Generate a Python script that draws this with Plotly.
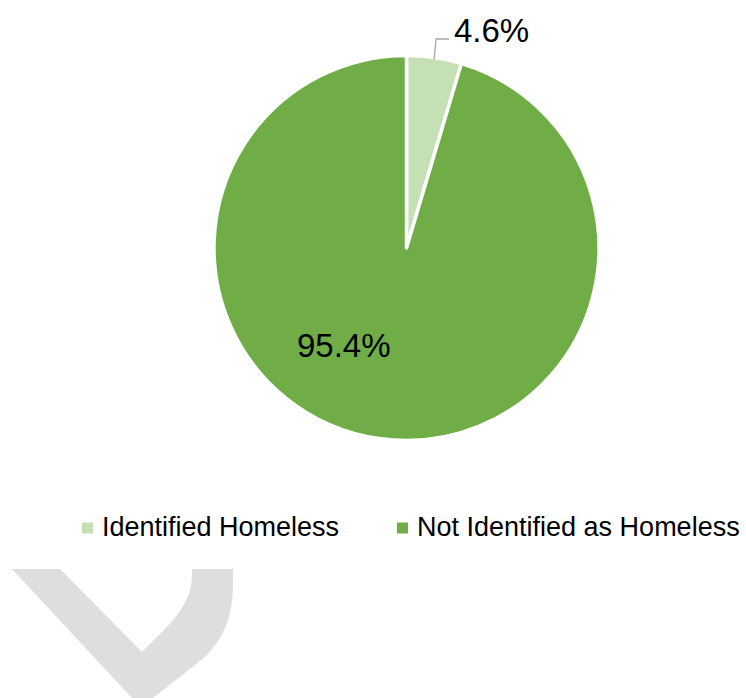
import math
import plotly.graph_objects as go

W, H = 746, 698

labels = ["Identified Homeless", "Not Identified as Homeless"]
values = [4.6, 95.4]
colors = ["#C5E0B4", "#70AD47"]

# pie geometry in pixels (radius includes half of the white slice border)
cx, cy, r = 406.5, 248, 192.5


def px(x):
    return x / W


def py(y):
    return 1 - y / H


def pt(x, y):
    return f"{px(x):.5f},{py(y):.5f}"


def path_from_pixels(points, close=True):
    parts = []
    for i, (x, y) in enumerate(points):
        parts.append(("M" if i == 0 else "L") + pt(x, y))
    return " ".join(parts) + (" Z" if close else "")


fig = go.Figure(
    go.Pie(
        labels=labels,
        values=values,
        sort=False,
        direction="clockwise",
        rotation=0,
        textinfo="none",
        hoverinfo="label+percent",
        marker=dict(colors=colors, line=dict(color="white", width=3.5)),
        domain=dict(x=[px(cx - r), px(cx + r)], y=[py(cy + r), py(cy - r)]),
        showlegend=False,
    )
)

total = sum(values)

# leader line from the small slice's outer edge to its label
mid = values[0] / total * 360 / 2
ang = math.radians(mid)
ex, ey = cx + (r - 1) * math.sin(ang), cy - (r - 1) * math.cos(ang)
leader = [(ex, ey + 1), (ex + 2, 39), (ex + 15, 39)]
fig.add_shape(
    type="path",
    path=path_from_pixels(leader, close=False),
    xref="paper", yref="paper",
    line=dict(color="#A6A6A6", width=1.3),
)

label_font = dict(family="Liberation Sans, Arial, sans-serif", size=33, color="#000000")
fig.add_annotation(
    x=px(ex + 18), y=py(30), xref="paper", yref="paper",
    text=f"{values[0] / total * 100:.1f}%", showarrow=False,
    xanchor="left", yanchor="middle", font=label_font,
)
fig.add_annotation(
    x=px(344), y=py(345), xref="paper", yref="paper",
    text=f"{values[1] / total * 100:.1f}%", showarrow=False,
    xanchor="center", yanchor="middle", font=label_font,
)

# legend row: square swatch followed by the category name
legend_font = dict(family="Liberation Sans, Arial, sans-serif", size=27, color="#000000")
legend_x = [82, 397]
legend_y = 528
sw = 11
for name, col, lx in zip(labels, colors, legend_x):
    fig.add_shape(
        type="rect",
        x0=px(lx), x1=px(lx + sw),
        y0=py(legend_y + sw / 2), y1=py(legend_y - sw / 2),
        xref="paper", yref="paper",
        fillcolor=col, line=dict(width=0),
    )
    fig.add_annotation(
        x=px(lx + sw + 7), y=py(legend_y - 1), xref="paper", yref="paper",
        text=name, showarrow=False,
        xanchor="left", yanchor="middle", font=legend_font,
    )

# grey check-mark emblem in the lower left corner
emblem_path = (
    "M" + pt(12, 569) + " L" + pt(60, 569) + " L" + pt(142, 652)
    + " L" + pt(165, 629) + " Q" + pt(192, 602) + " " + pt(192, 575)
    + " L" + pt(192, 569) + " L" + pt(233, 569) + " L" + pt(233, 585)
    + " Q" + pt(233, 630) + " " + pt(205, 657) + " L" + pt(153, 698)
    + " L" + pt(132, 698) + " Z"
)
fig.add_shape(
    type="path",
    path=emblem_path,
    xref="paper", yref="paper",
    fillcolor="#DEDEDE",
    line=dict(width=0),
    layer="below",
)

fig.update_layout(
    width=W,
    height=H,
    margin=dict(l=0, r=0, t=0, b=0),
    paper_bgcolor="white",
    plot_bgcolor="white",
    showlegend=False,
)

fig.write_html("out.html")
